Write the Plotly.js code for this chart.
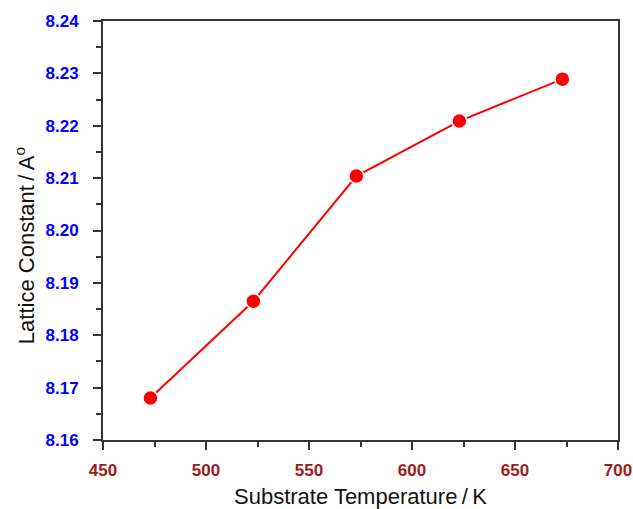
<!DOCTYPE html>
<html>
<head>
<meta charset="utf-8">
<script src="https://cdn.plot.ly/plotly-3.0.1.min.js"></script>
<style>html,body{margin:0;padding:0;background:#fff;}#chart{width:633px;height:509px;}</style>
</head>
<body>
<div id="chart"></div>
<script>
var temperatures = [473, 523, 573, 623, 673];
var latticeConstants = [8.168, 8.1865, 8.2104, 8.2209, 8.2289];
var xTickVals = [450, 500, 550, 600, 650, 700];
var yTickVals = [8.16, 8.17, 8.18, 8.19, 8.20, 8.21, 8.22, 8.23, 8.24];
var yTickText = ['8.16', '8.17', '8.18', '8.19', '8.20', '8.21', '8.22', '8.23', '8.24'];
var xTitle = 'Substrate Temperature\u2009/\u2009K';
var yTitle = 'Lattice Constant\u2009/\u2009A<sup>o</sup>';

var trace = {
  x: temperatures,
  y: latticeConstants,
  type: 'scatter',
  mode: 'lines+markers',
  line: {color: '#ff0000', width: 2},
  marker: {color: '#ff0000', size: 15, line: {color: '#ffffff', width: 1.5}},
  cliponaxis: false
};

var layout = {
  width: 633,
  height: 509,
  margin: {l: 103, r: 15, t: 21, b: 69},
  paper_bgcolor: '#ffffff',
  plot_bgcolor: '#ffffff',
  showlegend: false,
  font: {family: 'Liberation Sans, Arial, sans-serif'},
  xaxis: {
    range: [450, 700],
    tickvals: xTickVals,
    ticks: 'outside',
    ticklen: 8,
    tickwidth: 2,
    tickcolor: '#333333',
    minor: {dtick: 25, ticks: 'outside', ticklen: 5, tickwidth: 2, tickcolor: '#333333', showgrid: false},
    showline: true,
    linecolor: '#333333',
    linewidth: 2,
    mirror: true,
    showgrid: false,
    zeroline: false,
    ticklabelstandoff: 6,
    tickfont: {family: 'Liberation Sans, Arial, sans-serif', size: 17, color: '#9b1c1c', weight: 'bold'},
    title: {text: xTitle, font: {family: 'Liberation Sans, Arial, sans-serif', size: 22, color: '#111111'}, standoff: 9}
  },
  yaxis: {
    range: [8.16, 8.24],
    tickvals: yTickVals,
    ticktext: yTickText,
    ticks: 'outside',
    ticklen: 8,
    tickwidth: 2,
    tickcolor: '#333333',
    minor: {dtick: 0.005, ticks: 'outside', ticklen: 5, tickwidth: 2, tickcolor: '#333333', showgrid: false},
    showline: true,
    linecolor: '#333333',
    linewidth: 2,
    mirror: true,
    showgrid: false,
    zeroline: false,
    ticklabelstandoff: 11,
    tickfont: {family: 'Liberation Sans, Arial, sans-serif', size: 17, color: '#0000ff', weight: 'bold'}
  },
  annotations: [{
    text: yTitle,
    xref: 'paper', yref: 'paper',
    x: -0.1515, y: 0.465,
    xanchor: 'center', yanchor: 'middle',
    textangle: -90,
    showarrow: false,
    font: {family: 'Liberation Sans, Arial, sans-serif', size: 22, color: '#111111'}
  }]
};

Plotly.newPlot('chart', [trace], layout, {displayModeBar: false, staticPlot: true});
</script>
</body>
</html>
